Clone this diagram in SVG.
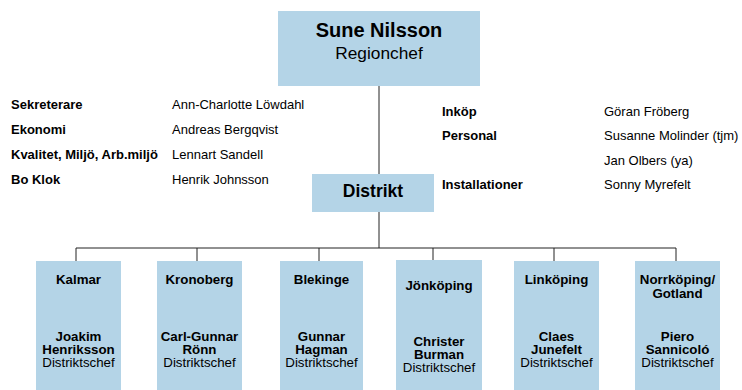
<svg xmlns="http://www.w3.org/2000/svg" width="742" height="390" viewBox="0 0 742 390">
<style>
.box{fill:#b4d4e7;}
.ln{stroke:#222;stroke-width:1;fill:none;}
text{font-family:"Liberation Sans",Arial,sans-serif;fill:#000;}
.b{font-weight:bold;}
.c{text-anchor:middle;}
.s{font-size:13.3px;}
.l{font-size:13px;}
</style>
<rect width="742" height="390" fill="#fff"/>
<g id="connectors">
<line class="ln" x1="379" y1="86" x2="379" y2="174"/>
<line class="ln" x1="379" y1="212" x2="379" y2="248"/>
<line class="ln" x1="76" y1="248" x2="676" y2="248"/>
<line class="ln" x1="76" y1="248" x2="76" y2="261"/>
<line class="ln" x1="197" y1="248" x2="197" y2="261"/>
<line class="ln" x1="319" y1="248" x2="319" y2="261"/>
<line class="ln" x1="433" y1="248" x2="433" y2="260"/>
<line class="ln" x1="554" y1="248" x2="554" y2="261"/>
<line class="ln" x1="676" y1="248" x2="676" y2="261"/>
</g>
<g id="regionchef">
<rect class="box" x="278" y="11" width="202" height="75"/>
<text class="b c" x="379" y="37" font-size="20">Sune Nilsson</text>
<text class="c" x="379" y="59" font-size="17.3">Regionchef</text>
</g>
<g id="staff-left">
<text class="b l" x="11" y="109">Sekreterare</text>
<text class="b l" x="11" y="134">Ekonomi</text>
<text class="b l" x="11" y="159">Kvalitet, Miljö, Arb.miljö</text>
<text class="b l" x="11" y="184">Bo Klok</text>
<text class="l" x="172" y="109">Ann-Charlotte Löwdahl</text>
<text class="l" x="172" y="134">Andreas Bergqvist</text>
<text class="l" x="172" y="159">Lennart Sandell</text>
<text class="l" x="172" y="184">Henrik Johnsson</text>
</g>
<g id="staff-right">
<text class="b l" x="442" y="116">Inköp</text>
<text class="b l" x="442" y="140">Personal</text>
<text class="b l" x="442" y="189">Installationer</text>
<text class="l" x="604" y="116">Göran Fröberg</text>
<text class="l" x="604" y="140">Susanne Molinder (tjm)</text>
<text class="l" x="604" y="165">Jan Olbers (ya)</text>
<text class="l" x="604" y="189">Sonny Myrefelt</text>
</g>
<g id="distrikt">
<rect class="box" x="312" y="174" width="122" height="38"/>
<text class="b c" x="373" y="197" font-size="17.5">Distrikt</text>
</g>
<g id="kalmar">
<rect class="box" x="36" y="261" width="85" height="129"/>
<text class="b c s" x="78.5" y="284">Kalmar</text>
<text class="b c s" x="78.5" y="341">Joakim</text>
<text class="b c s" x="78.5" y="354">Henriksson</text>
<text class="c s" x="78.5" y="367">Distriktschef</text>
</g>
<g id="kronoberg">
<rect class="box" x="157" y="261" width="85" height="129"/>
<text class="b c s" x="199.5" y="284">Kronoberg</text>
<text class="b c s" x="199.5" y="341">Carl-Gunnar</text>
<text class="b c s" x="199.5" y="354">Rönn</text>
<text class="c s" x="199.5" y="367">Distriktschef</text>
</g>
<g id="blekinge">
<rect class="box" x="280" y="261" width="83" height="129"/>
<text class="b c s" x="321.5" y="284">Blekinge</text>
<text class="b c s" x="321.5" y="341">Gunnar</text>
<text class="b c s" x="321.5" y="354">Hagman</text>
<text class="c s" x="321.5" y="367">Distriktschef</text>
</g>
<g id="jonkoping">
<rect class="box" x="396" y="260" width="86" height="130"/>
<text class="b c s" x="439" y="290">Jönköping</text>
<text class="b c s" x="439" y="346">Christer</text>
<text class="b c s" x="439" y="359">Burman</text>
<text class="c s" x="439" y="372">Distriktschef</text>
</g>
<g id="linkoping">
<rect class="box" x="514" y="261" width="85" height="129"/>
<text class="b c s" x="556.5" y="284">Linköping</text>
<text class="b c s" x="556.5" y="341">Claes</text>
<text class="b c s" x="556.5" y="354">Junefelt</text>
<text class="c s" x="556.5" y="367">Distriktschef</text>
</g>
<g id="norrkoping">
<rect class="box" x="635" y="261" width="85" height="129"/>
<text class="b c s" x="677.5" y="284">Norrköping/</text>
<text class="b c s" x="677.5" y="298">Gotland</text>
<text class="b c s" x="677.5" y="341">Piero</text>
<text class="b c s" x="677.5" y="354">Sannicoló</text>
<text class="c s" x="677.5" y="367">Distriktschef</text>
</g>
</svg>
